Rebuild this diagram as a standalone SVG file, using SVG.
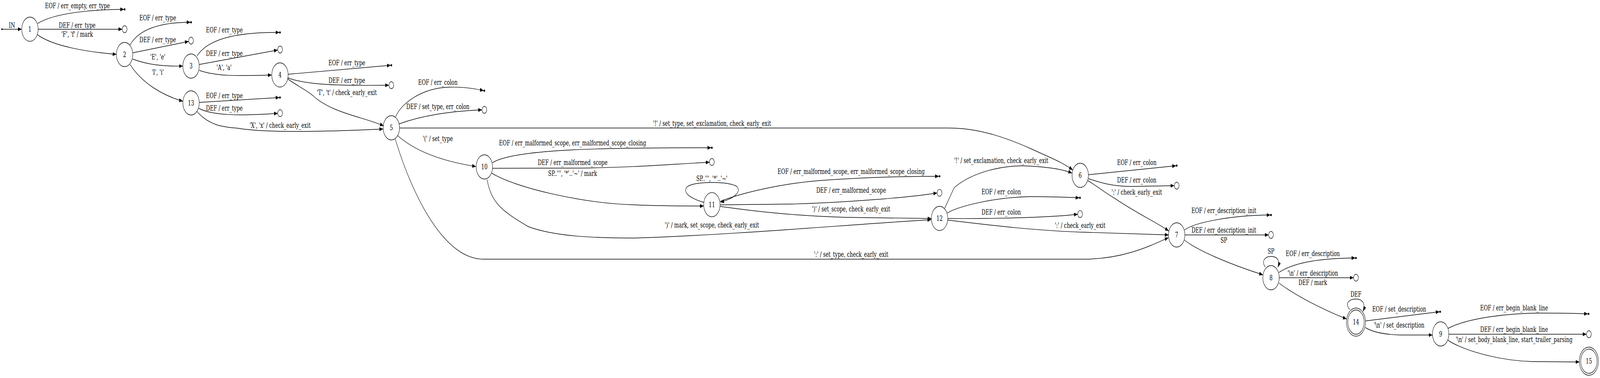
<svg xmlns="http://www.w3.org/2000/svg" width="6055" height="967" viewBox="0 0 6055 967" preserveAspectRatio="none">
<style>
svg{width:100vw;height:100vh}
text{font-family:"DejaVu Serif","Liberation Serif",serif;font-size:18.67px;fill:#000;text-anchor:middle}
.n{fill:none;stroke:#000;stroke-width:1.4}
.t{fill:none;stroke:#000;stroke-width:1.4}
.p{fill:#000;stroke:#000;stroke-width:1}
#edges path{fill:none;stroke:#000;stroke-width:1.4;marker-end:url(#a)}
</style>
<defs>
<marker id="a" markerUnits="userSpaceOnUse" markerWidth="14" markerHeight="10" viewBox="0 0 14 10" refX="14" refY="5" orient="auto">
<path d="M0,0 L14,5 L0,10 z" fill="#000"/>
</marker>
</defs>
<rect width="6055" height="967" fill="#fff"/>
<g id="edges">
<circle cx="7.5" cy="74.7" r="2.5" fill="#000"/>
<path d="M10,74.7 L82,74.7"/>
<path d="M143,60 C210,31 370,24 469,24"/>
<path d="M144,74.7 L462.5,74.7"/>
<path d="M142,89 C200,118 330,133 440.5,139"/>
<path d="M492,115 C530,70 620,57 720.5,57"/>
<path d="M503,135 L714,106"/>
<path d="M502,151 C560,166 620,170 692,169"/>
<path d="M492,165 C540,215 620,245 692,259"/>
<path d="M746,143 C790,95 920,82 1057,83"/>
<path d="M754,165 L1051,128"/>
<path d="M754,180 C820,196 900,194 1028,192"/>
<path d="M1090,190 L1478.5,167"/>
<path d="M1089,199 C1150,215 1250,220 1472,218"/>
<path d="M1089,202 C1130,222 1165,232 1188,247 C1260,290 1380,300 1452,322"/>
<path d="M754,262 L1057,249.5"/>
<path d="M752,277 C800,295 900,297 1051,290"/>
<path d="M745,285 C790,320 840,325 900,328 C1000,340 1200,338 1450,330"/>
<path d="M1497,299 C1520,262 1600,225 1700,223 C1760,222 1800,227 1830.5,232"/>
<path d="M1510,317 C1600,295 1700,285 1824,281"/>
<path d="M1512,327.5 L3590,327.5 C3700,327.5 3800,350 3900,380 C3980,405 4020,415 4060,435"/>
<path d="M1505,347 C1560,380 1650,410 1801,426"/>
<path d="M1496,356 C1560,500 1680,663 1830,663 L4100,663 C4250,663 4350,630 4422,608"/>
<path d="M1864,416 C1950,380 2300,378 2691.5,378"/>
<path d="M1864,430.5 L2200,430 C2400,428 2500,422 2685,415"/>
<path d="M1861,443 C1950,480 2200,520 2400,524 C2500,527 2600,527 2663,527"/>
<path d="M1843,459 C1860,520 1900,540 2000,580 C2100,605 2250,609 2400,609 C2800,600 3200,575 3524,562"/>
<path d="M2665,518 C2600,505 2585,490 2600,478 C2625,463 2765,463 2790,478 C2805,490 2780,508 2726,517"/>
<path d="M2726,515 C2800,495 2950,470 3100,462 C3300,452 3450,451 3553,451"/>
<path d="M2726,524 L3000,522 C3200,518 3450,505 3546.5,493.5"/>
<path d="M2725,528 C2850,540 3000,552 3200,556 C3400,558 3480,559 3524.5,559"/>
<path d="M3575,533 L3611,480 C3680,440 3800,420 3900,425 C3980,428 4030,435 4057,443"/>
<path d="M3585,545 C3620,530 3750,505 3900,503 C4000,503 4050,505 4084.5,506"/>
<path d="M3587,559 C3800,560 4000,555 4078.5,548"/>
<path d="M3586,563 C3700,572 3900,590 4100,594 C4300,598 4380,600 4422.5,601"/>
<path d="M4119,447 L4450.5,424"/>
<path d="M4119,457 C4160,466 4200,476 4280,477 L4444,475"/>
<path d="M4117,462 C4160,480 4180,492 4220,508 C4300,545 4380,570 4423,591"/>
<path d="M4483,588 C4520,570 4650,551 4807.5,550"/>
<path d="M4484,601 L4801,601"/>
<path d="M4482,614 C4530,640 4650,675 4779.5,703"/>
<path d="M4788,683 C4774,670 4784,656 4810,656 C4836,656 4844,668 4836,684"/>
<path d="M4840,697 C4900,670 5000,661 5129,660"/>
<path d="M4841,710.5 L5122.5,710.5"/>
<path d="M4840,724 C4900,755 5000,790 5096,816"/>
<path d="M5108,792 C5090,779 5100,765 5131.5,765 C5160,765 5168,780 5158,797"/>
<path d="M5168,821 L5447.5,797.5"/>
<path d="M5167,838 C5200,852 5250,856 5300,857 L5421,857"/>
<path d="M5480,840 C5550,815 5700,800 5850,801 C5930,801 5980,802 6009,803"/>
<path d="M5483,855 L6004,855"/>
<path d="M5479,870 C5520,890 5650,922 5800,925 L5977,926"/>
</g>
<g id="labels">
<text x="45" y="70.7">IN</text>
<text x="293" y="20.7">EOF / err_empty, err_type</text>
<text x="292" y="70.7">DEF / err_type</text>
<text x="292" y="94.3">'F', 'f' / mark</text>
<text x="597" y="52.3">EOF / err_type</text>
<text x="597" y="108.3">DEF / err_type</text>
<text x="597" y="152.3">'E', 'e'</text>
<text x="597" y="190.7">'I', 'i'</text>
<text x="849" y="82.7">EOF / err_type</text>
<text x="849" y="142.7">DEF / err_type</text>
<text x="848" y="179.3">'A', 'a'</text>
<text x="1312.5" y="167">EOF / err_type</text>
<text x="1312.5" y="211.7">DEF / err_type</text>
<text x="1312.5" y="242.7">'T', 't' / check_early_exit</text>
<text x="849" y="251">EOF / err_type</text>
<text x="849" y="282.7">DEF / err_type</text>
<text x="1060" y="326.7">'X', 'x' / check_early_exit</text>
<text x="1657" y="217">EOF / err_colon</text>
<text x="1657" y="278.8">DEF / set_type, err_colon</text>
<text x="1657" y="360.8">'(' / set_type</text>
<text x="2694.6" y="322">'!' / set_type, set_exclamation, check_early_exit</text>
<text x="2167" y="371.9">EOF / err_malformed_scope, err_malformed_scope_closing</text>
<text x="2167" y="422.5">DEF / err_malformed_scope</text>
<text x="2167" y="450.2">SP..''', '*'..'~' / mark</text>
<text x="2694" y="463">SP..''', '*'..'~'</text>
<text x="3221" y="445.3">EOF / err_malformed_scope, err_malformed_scope_closing</text>
<text x="3221" y="493.4">DEF / err_malformed_scope</text>
<text x="3221" y="540.9">')' / set_scope, check_early_exit</text>
<text x="2694" y="581.6">')' / mark, set_scope, check_early_exit</text>
<text x="3221" y="656.8">':' / set_type, check_early_exit</text>
<text x="3789" y="417.5">'!' / set_exclamation, check_early_exit</text>
<text x="3789" y="497">EOF / err_colon</text>
<text x="3789" y="549.5">DEF / err_colon</text>
<text x="4087.5" y="582.8">':' / check_early_exit</text>
<text x="4302" y="421.8">EOF / err_colon</text>
<text x="4302" y="467.5">DEF / err_colon</text>
<text x="4302" y="498">':' / check_early_exit</text>
<text x="4631.5" y="544.6">EOF / err_description_init</text>
<text x="4631.5" y="595.1">DEF / err_description_init</text>
<text x="4631.5" y="621">SP</text>
<text x="4810" y="648.8">SP</text>
<text x="4968" y="655">EOF / err_description</text>
<text x="4968" y="705">'\n' / err_description</text>
<text x="4968" y="729">DEF / mark</text>
<text x="5131.5" y="758.6">DEF</text>
<text x="5295" y="797.5">EOF / set_description</text>
<text x="5295" y="837.8">'\n' / set_description</text>
<text x="5730" y="794">EOF / err_begin_blank_line</text>
<text x="5730" y="849.3">DEF / err_begin_blank_line</text>
<text x="5730" y="875">'\n' / set_body_blank_line, start_trailer_parsing</text>
</g>
<g id="terminals">
<circle class="p" cx="471.7" cy="24" r="2.5"/>
<circle class="t" cx="471.7" cy="74.7" r="9"/>
<circle class="p" cx="723" cy="57" r="2.5"/>
<circle class="t" cx="723" cy="104" r="9"/>
<circle class="p" cx="1059.5" cy="83" r="2.5"/>
<circle class="t" cx="1060" cy="126.7" r="9"/>
<circle class="p" cx="1059.5" cy="249.5" r="2.5"/>
<circle class="t" cx="1060" cy="289.5" r="9"/>
<circle class="p" cx="1481" cy="167" r="2.5"/>
<circle class="t" cx="1481" cy="218" r="9"/>
<circle class="p" cx="1833" cy="232" r="2.5"/>
<circle class="t" cx="1833" cy="281" r="9"/>
<circle class="p" cx="2694" cy="378" r="2.5"/>
<circle class="t" cx="2694" cy="414.5" r="9"/>
<circle class="p" cx="3555.6" cy="451" r="2.5"/>
<circle class="t" cx="3555.6" cy="493.4" r="9"/>
<circle class="p" cx="4087" cy="506" r="2.5"/>
<circle class="t" cx="4087.5" cy="547.6" r="9"/>
<circle class="p" cx="4453" cy="423.7" r="2.5"/>
<circle class="t" cx="4453" cy="475" r="9"/>
<circle class="p" cx="4810" cy="550" r="2.5"/>
<circle class="t" cx="4810" cy="601" r="9"/>
<circle class="p" cx="5131.5" cy="660" r="2.5"/>
<circle class="t" cx="5131.5" cy="710.5" r="9"/>
<circle class="p" cx="5450" cy="797.5" r="2.5"/>
<circle class="p" cx="6011.7" cy="803" r="2.5"/>
<circle class="t" cx="6013" cy="855" r="9"/>
</g>
<g id="n1"><circle class="n" cx="113.3" cy="74.7" r="31"/><text x="113.3" y="81">1</text></g>
<g id="n2"><circle class="n" cx="471.5" cy="139.5" r="31"/><text x="471.5" y="146">2</text></g>
<g id="n3"><circle class="n" cx="723" cy="169" r="31"/><text x="723" y="175.5">3</text></g>
<g id="n13"><circle class="n" cx="723" cy="263.3" r="31"/><text x="723" y="269.8">13</text></g>
<g id="n4"><circle class="n" cx="1059.5" cy="191.7" r="31"/><text x="1059.5" y="198.2">4</text></g>
<g id="n5"><circle class="n" cx="1481" cy="327" r="31"/><text x="1481" y="333.5">5</text></g>
<g id="n10"><circle class="n" cx="1833" cy="427" r="31"/><text x="1833" y="433.5">10</text></g>
<g id="n11"><circle class="n" cx="2694" cy="523.6" r="31"/><text x="2694" y="530">11</text></g>
<g id="n12"><circle class="n" cx="3555.6" cy="558.7" r="31"/><text x="3555.6" y="565.2">12</text></g>
<g id="n6"><circle class="n" cx="4088" cy="448.5" r="31"/><text x="4088" y="455">6</text></g>
<g id="n7"><circle class="n" cx="4453" cy="601" r="31"/><text x="4453" y="607.5">7</text></g>
<g id="n8"><circle class="n" cx="4810" cy="710.5" r="31"/><text x="4810" y="717">8</text></g>
<g id="n14"><circle class="n" cx="5131.5" cy="824" r="31"/><circle class="n" cx="5131.5" cy="824" r="36"/><text x="5131.5" y="830.5">14</text></g>
<g id="n9"><circle class="n" cx="5452" cy="854.3" r="31"/><text x="5452" y="860.8">9</text></g>
<g id="n15"><circle class="n" cx="6013" cy="924" r="31"/><circle class="n" cx="6013" cy="924" r="36"/><text x="6013" y="930.5">15</text></g>
</svg>
